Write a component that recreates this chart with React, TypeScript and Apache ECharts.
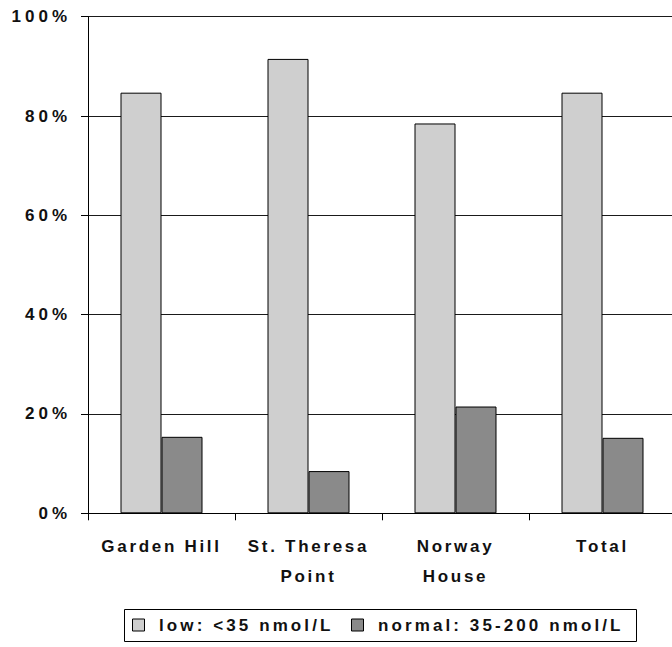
import React, { useEffect, useRef } from "react";
import * as echarts from "echarts";

const categories = ["Garden Hill", "St. Theresa\nPoint", "Norway\nHouse", "Total"];
const lowValues = [84.7, 91.5, 78.5, 84.7];
const normalValues = [15.4, 8.5, 21.5, 15.2];
const seriesNames = ["low: <35 nmol/L", "normal: 35-200 nmol/L"];
const seriesColors = ["#cfcfcf", "#8a8a8a"];

const FONT = "Liberation Sans";

export default function App() {
  const ref = useRef<HTMLDivElement>(null);
  useEffect(() => {
    if (!ref.current) return;
    const chart = echarts.init(ref.current, undefined, { renderer: "svg" });

    const legendY = 625.5;
    const legendGraphic = [
      {
        type: "rect",
        shape: { x: 124.5, y: 609.5, width: 512, height: 32 },
        style: { fill: "#fff", stroke: "#000", lineWidth: 1 },
        silent: true,
      },
      {
        type: "rect",
        shape: { x: 132.5, y: legendY - 6.5, width: 12, height: 12 },
        style: { fill: seriesColors[0], stroke: "#000", lineWidth: 1 },
        silent: true,
      },
      {
        type: "text",
        x: 159,
        y: legendY,
        style: {
          text: seriesNames[0],
          fontFamily: FONT,
          fontWeight: "bold",
          fontSize: 17,
          fill: "#111",
          verticalAlign: "middle",
          align: "left",
        },
        silent: true,
      },
      {
        type: "rect",
        shape: { x: 351.5, y: legendY - 6.5, width: 12, height: 12 },
        style: { fill: seriesColors[1], stroke: "#000", lineWidth: 1 },
        silent: true,
      },
      {
        type: "text",
        x: 378,
        y: legendY,
        style: {
          text: seriesNames[1],
          fontFamily: FONT,
          fontWeight: "bold",
          fontSize: 17,
          fill: "#111",
          verticalAlign: "middle",
          align: "left",
        },
        silent: true,
      },
    ];

    chart.setOption({
      animation: false,
      backgroundColor: "#ffffff",
      grid: { left: 88, right: 0, top: 16.7, bottom: 133.7, containLabel: false },
      graphic: legendGraphic,
      xAxis: {
        type: "category",
        data: categories,
        boundaryGap: true,
        axisLine: { lineStyle: { color: "#000", width: 1 } },
        axisTick: { show: true, length: 7, lineStyle: { color: "#000" } },
        axisLabel: {
          fontFamily: FONT,
          fontWeight: "bold",
          fontSize: 17,
          color: "#111",
          margin: 18,
          lineHeight: 30,
          interval: 0,
        },
      },
      yAxis: {
        type: "value",
        min: 0,
        max: 100,
        interval: 20,
        axisLine: { show: true, lineStyle: { color: "#000", width: 1 } },
        axisTick: { show: true, length: 7, lineStyle: { color: "#000" } },
        splitLine: { show: true, lineStyle: { color: "#1a1a1a", width: 1 } },
        axisLabel: {
          formatter: "{value}%",
          fontFamily: FONT,
          fontWeight: "bold",
          fontSize: 17,
          color: "#111",
          margin: 17,
        },
      },
      series: [
        {
          name: seriesNames[0],
          type: "bar",
          data: lowValues,
          barWidth: 41,
          barGap: "0%",
          silent: true,
          itemStyle: { color: seriesColors[0], borderColor: "#000", borderWidth: 1 },
        },
        {
          name: seriesNames[1],
          type: "bar",
          data: normalValues,
          barWidth: 41,
          barGap: "0%",
          silent: true,
          itemStyle: { color: seriesColors[1], borderColor: "#000", borderWidth: 1 },
        },
      ],
    });

    const applySpacing = () => {
      const root = ref.current;
      if (!root) return;
      root.querySelectorAll("text").forEach((t) => {
        const s = t.textContent || "";
        let sp = 2.7;
        if (s.endsWith("%")) sp = 4;
        else if (seriesNames.indexOf(s) >= 0) sp = 3.1;
        t.setAttribute("letter-spacing", String(sp));
      });
    };
    try {
      (chart.getZr() as any).flush();
    } catch (e) {}
    applySpacing();
    chart.on("finished", applySpacing);
    const timer = setTimeout(applySpacing, 50);

    return () => {
      clearTimeout(timer);
      chart.dispose();
    };
  }, []);
  return (
    <div style={{ position: "fixed", left: 0, top: 0, width: 672, height: 647, overflow: "hidden", background: "#fff" }}>
      <div ref={ref} style={{ width: 676, height: 647 }} />
    </div>
  );
}
